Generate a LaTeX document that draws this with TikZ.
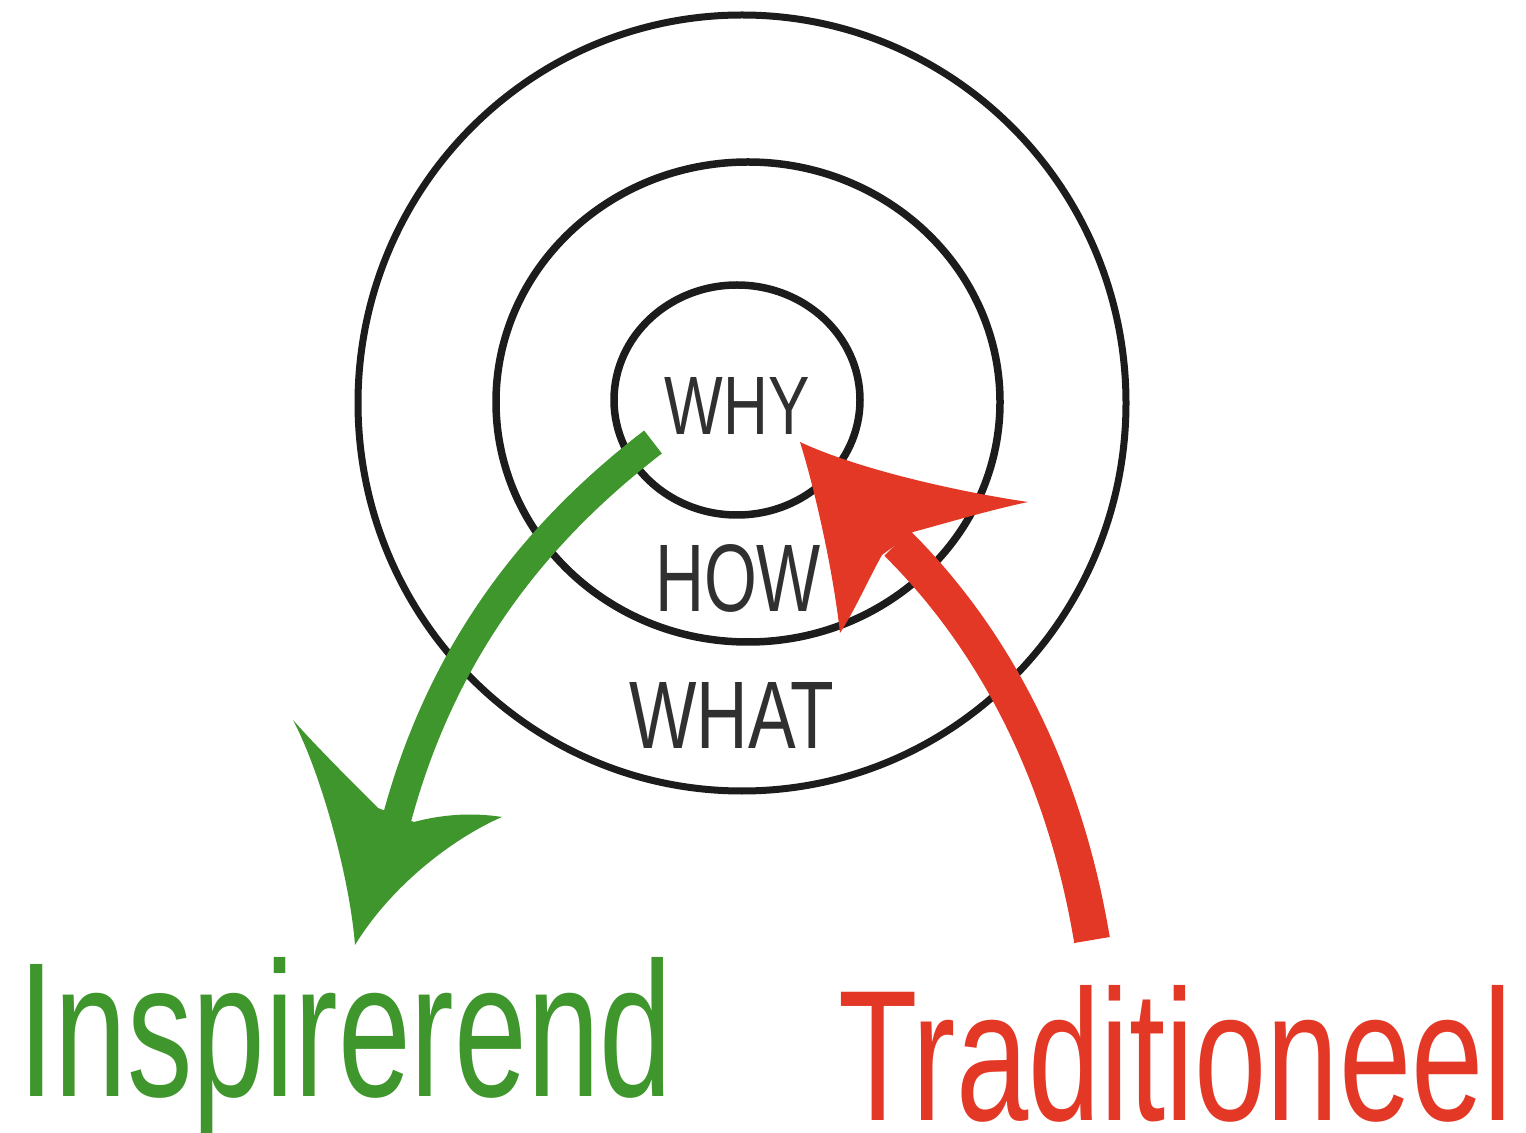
\documentclass[tikz,border=0pt]{standalone}
\usepackage{fontspec}
\setmainfont{Liberation Sans}
\usetikzlibrary{shapes.geometric}
\newlength\pxu \setlength\pxu{0.5pt}
\newcommand\myfit[3]{\resizebox{#1\pxu}{#2\pxu}{#3}}
\definecolor{grn}{RGB}{62,150,44}
\definecolor{redA}{RGB}{228,56,38}
\definecolor{ink}{RGB}{28,28,28}
\definecolor{txt}{RGB}{48,48,48}
\begin{document}
\begin{tikzpicture}[x=0.5pt,y=-0.5pt,
  ring/.style={draw=ink, ellipse, inner sep=0pt, outer sep=0pt},
  lbl/.style={inner sep=0pt, text=txt},
  big/.style={inner sep=0pt, anchor=base west},
  shaft/.style={line width=#1\pxu, line cap=butt},
]
\useasboundingbox (0,0) rectangle (1526,1133);
\fill[white] (0,0) rectangle (1526,1133);
% rings
\node[ring, line width=7\pxu, minimum width=768\pxu, minimum height=776\pxu] (outer) at (742,403) {};
\node[ring, line width=7.5\pxu, minimum width=504\pxu, minimum height=480\pxu] (middle) at (748,402) {};
\node[ring, line width=7.5\pxu, minimum width=246\pxu, minimum height=230\pxu] (inner) at (737,400) {};
% ring labels
\node[lbl] (why) at (737,406) {\myfit{145}{57}{WHY}};
\node[lbl] (how) at (738,578) {\myfit{166}{67}{HOW}};
\node[lbl] (what) at (732,715) {\myfit{205}{66}{WHAT}};
% green arrow
\coordinate (gtail) at (653,442);
\coordinate (gbase) at (397,818);
\coordinate (gtip) at (355,945);
\draw[grn, shaft=29] (gtail) .. controls (545,525) and (445,640) .. (gbase);
\fill[grn] (gtip) .. controls (350,880) and (322,775) .. (293,720)
  .. controls (315,745) and (350,780) .. (378,808)
  -- (414,822)
  .. controls (440,815) and (470,812) .. (502,817)
  .. controls (460,835) and (395,880) .. (gtip) -- cycle;
% red arrow
\coordinate (rtail) at (1092,940);
\coordinate (rbase) at (897,543);
\coordinate (rtip) at (800,442);
\draw[redA, shaft=36] (rtail) .. controls (1062,760) and (985,630) .. (rbase);
\fill[redA] (rtip) .. controls (815,490) and (833,570) .. (840,633)
  .. controls (855,610) and (868,580) .. (882,555)
  -- (913,532)
  .. controls (950,522) and (990,510) .. (1028,502)
  .. controls (960,492) and (860,470) .. (rtip) -- cycle;
% bottom labels
\node[big, text=grn] (insp) at (18,1096) {\myfit{654}{139}{Inspirerend}};
\node[big, text=redA] (trad) at (838,1120) {\myfit{674}{135}{Traditioneel}};
\end{tikzpicture}
\end{document}
